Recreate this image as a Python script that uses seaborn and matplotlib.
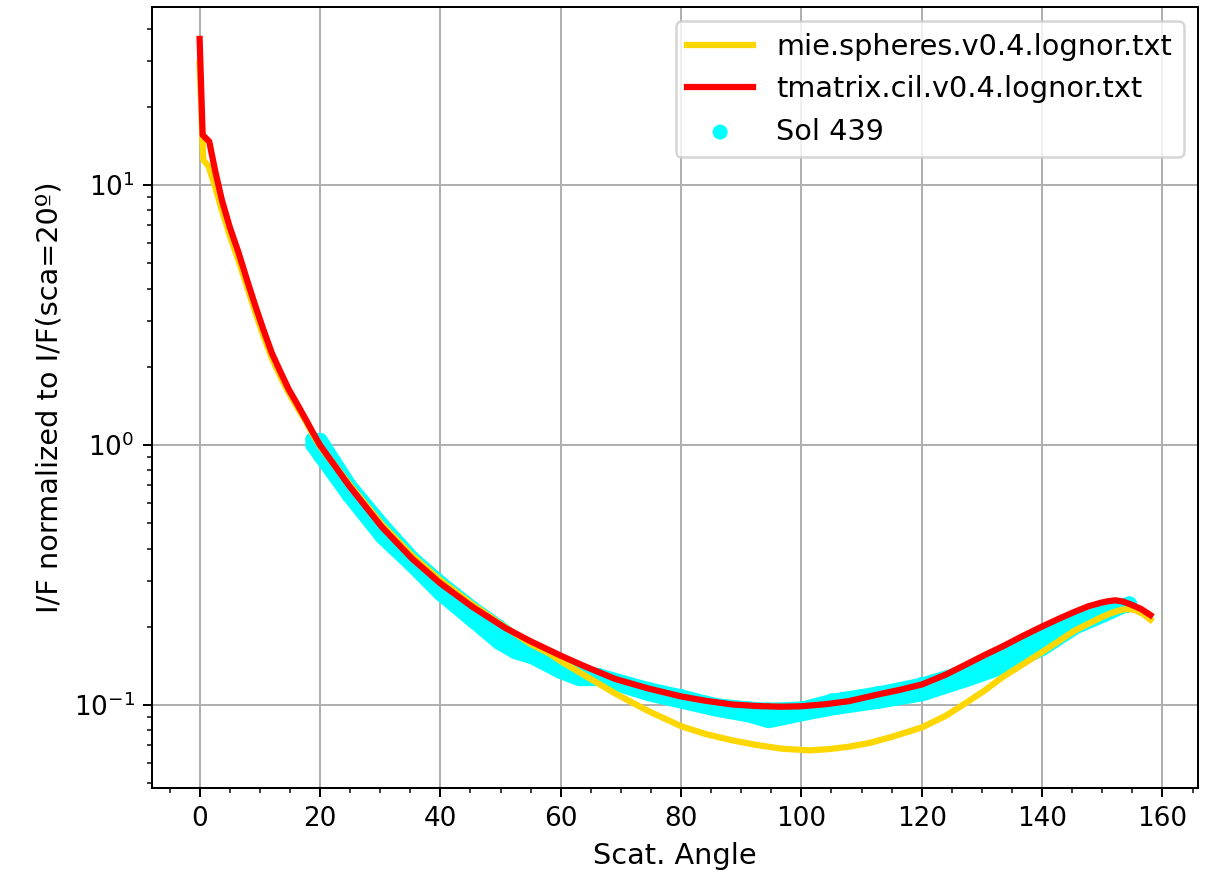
import matplotlib
matplotlib.use("Agg")
import matplotlib.pyplot as plt
import seaborn as sns

# --- data ---
mie_angle = [0, 0.6, 1.5, 2.6, 3.7, 5.0, 6.5, 7.9, 9.3, 10.6, 12.0, 13.4, 14.8, 16.2,
             17.6, 18.8, 20, 24.8, 30.3, 35.3, 40, 45.3, 50.8, 55, 58.1, 60, 64.5,
             69.1, 74.5, 80, 84, 88.5, 92.5, 96.7, 101.3, 104.5, 107.9, 111.3, 115,
             120, 124, 127.8, 130.5, 133.4, 136.7, 140, 145.5, 149.9, 151.5, 153.3,
             154.5, 155.5, 156.8, 158]
mie_val = [29.3, 12.5, 11.8, 9.8, 8.0, 6.4, 5.1, 4.05, 3.22, 2.63, 2.16, 1.84, 1.59,
           1.40, 1.24, 1.10, 0.99, 0.71, 0.495, 0.376, 0.302, 0.244, 0.199, 0.172,
           0.158, 0.1476, 0.128, 0.1107, 0.095, 0.083, 0.0775, 0.0732, 0.0703, 0.068,
           0.067, 0.0677, 0.0692, 0.0715, 0.0755, 0.082, 0.091, 0.1036, 0.114, 0.128,
           0.143, 0.160, 0.194, 0.218, 0.226, 0.233, 0.234, 0.232, 0.224, 0.213]

tmat_angle = [0, 0.5, 1.6, 2.6, 3.7, 5.0, 6.5, 7.9, 9.3, 10.6, 12.0, 13.4, 14.8, 16.2,
              17.6, 18.8, 20, 24.8, 30.3, 35.3, 40, 45.3, 50.8, 55, 60, 64, 69.1, 74.5,
              80, 84, 88.5, 92.5, 96.7, 100, 104, 107.9, 112.8, 116, 120, 124, 127.8,
              130.5, 133.4, 136.7, 140, 143, 145.5, 147.7, 149.9, 151, 152.2, 153.5,
              154.9, 156.5, 158]
tmat_val = [36.5, 15.6, 14.7, 11.3, 8.76, 6.9, 5.47, 4.3, 3.41, 2.78, 2.26, 1.92, 1.64,
            1.44, 1.26, 1.12, 1.0, 0.70, 0.484, 0.366, 0.294, 0.239, 0.198, 0.176,
            0.155, 0.141, 0.126, 0.116, 0.108, 0.104, 0.1006, 0.0992, 0.0986, 0.099,
            0.1008, 0.1036, 0.110, 0.114, 0.120, 0.131, 0.145, 0.156, 0.168, 0.184,
            0.2006, 0.216, 0.229, 0.240, 0.248, 0.251, 0.253, 0.250, 0.243, 0.234,
            0.222]

sol_angle = [18.8, 20, 24.8, 30.3, 35.3, 40, 45.3, 49.7, 52.4, 55.2, 60, 63, 66.4, 74.6,
             80, 85.7, 91.2, 94.5, 100, 105.1, 112.8, 120, 127.8, 133.4, 140, 145.5,
             149.9, 153.3, 154.5]
sol_hi = [1.05, 1.044, 0.702, 0.493, 0.367, 0.295, 0.236, 0.200, 0.179, 0.164, 0.144,
          0.135, 0.130, 0.115, 0.108, 0.100, 0.097, 0.096, 0.097, 0.104, 0.111, 0.120,
          0.136, 0.156, 0.187, 0.211, 0.227, 0.242, 0.245]
sol_lo = [1.0, 0.915, 0.642, 0.445, 0.346, 0.269, 0.213, 0.175, 0.161, 0.154, 0.135,
          0.127, 0.127, 0.111, 0.104, 0.097, 0.092, 0.0875, 0.093, 0.098, 0.104, 0.111,
          0.127, 0.141, 0.166, 0.201, 0.222, 0.241, 0.245]

labels = ["mie.spheres.v0.4.lognor.txt", "tmatrix.cil.v0.4.lognor.txt", "Sol 439"]

dpi = 180
fig, ax = plt.subplots(figsize=(1207 / dpi, 878 / dpi), dpi=dpi)
fig.subplots_adjust(left=0.126, right=0.9925, bottom=0.1025, top=0.992)

sns.lineplot(x=mie_angle, y=mie_val, color="gold", lw=2.5, label=labels[0],
             ax=ax, zorder=3, sort=False, estimator=None)
sns.lineplot(x=tmat_angle, y=tmat_val, color="red", lw=2.5, label=labels[1],
             ax=ax, zorder=4, sort=False, estimator=None)

ax.fill_between(sol_angle, sol_lo, sol_hi, facecolor="cyan", edgecolor="cyan",
                lw=6, joinstyle="round", zorder=2)
sns.scatterplot(x=sol_angle + sol_angle, y=sol_lo + sol_hi, color="cyan", s=36,
                edgecolor="none", label=labels[2], ax=ax, zorder=2)

ax.set_yscale("log")
ax.set_ylim(0.048, 48.4)
ax.set_xlim(-7.9, 165.9)
ax.minorticks_on()
ax.grid(True, which="major", color="#b0b0b0", lw=0.8)
ax.set_axisbelow(True)
ax.set_xlabel("Scat. Angle", fontsize=11.5)
ax.set_ylabel("I/F normalized to I/F(sca=20º)", fontsize=11.5)
ax.tick_params(labelsize=10.5)
for s in ax.spines.values():
    s.set_color("black")

ax.legend(loc="upper right", fontsize=11.5, handlelength=2.3)

fig.savefig("out.png", dpi=dpi)
